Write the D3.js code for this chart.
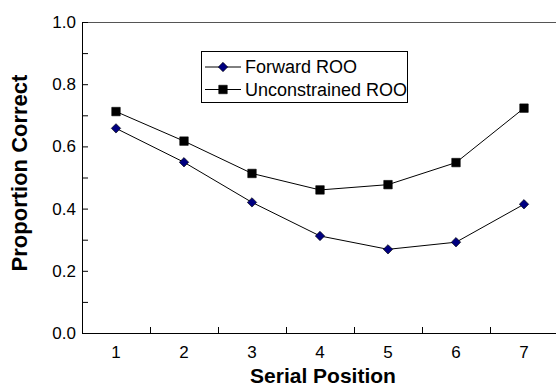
<!DOCTYPE html>
<html><head><meta charset="utf-8">
<script src="https://cdn.jsdelivr.net/npm/d3@7/dist/d3.min.js"></script>
<style>body{margin:0;background:#fff}svg{display:block}text{font-family:"Liberation Sans",Arial,sans-serif}</style>
</head><body>
<script>
const positions = [1,2,3,4,5,6,7];
const forwardROO = [0.658,0.549,0.420,0.312,0.269,0.292,0.414];
const unconstrainedROO = [0.712,0.617,0.513,0.460,0.477,0.548,0.723];
const yTicks = [0.0,0.2,0.4,0.6,0.8,1.0];
const yMinor = [0.1,0.3,0.5,0.7,0.9];
const seriesNames = ["Forward ROO","Unconstrained ROO"];

const W=556,H=389;
const L=82,R=558,T=22,B=333;
const svg=d3.select("body").append("svg").attr("width",W).attr("height",H);
const x=d3.scaleBand().domain(positions).range([L,R]);
const y=d3.scaleLinear().domain([0,1]).range([B,T]);

svg.append("line").attr("x1",L).attr("x2",W).attr("y1",T+0.5).attr("y2",T+0.5).attr("stroke","#555").attr("stroke-width",1);

const yAxis=svg.append("g").attr("transform",`translate(${L},0)`)
 .call(d3.axisRight(y).tickValues(yTicks.concat(yMinor)).tickSize(6).tickFormat(""));
yAxis.select(".domain").attr("stroke","#000").attr("d",`M0.5,${T}V${B}`);
yAxis.selectAll(".tick line").attr("stroke","#000");
svg.append("g").selectAll("text").data(yTicks).join("text")
 .attr("x",L-6).attr("y",d=>y(d)+6).attr("text-anchor","end")
 .attr("font-size",17).text(d=>d.toFixed(1));

const xb=d3.scaleLinear().domain([0,7]).range([L,R]);
const xAxis=svg.append("g").attr("transform",`translate(0,${B})`)
 .call(d3.axisTop(xb).tickValues([1,2,3,4,5,6]).tickSize(6).tickFormat(""));
xAxis.select(".domain").attr("stroke","#000").attr("d",`M${L},0.5H${W}`);
xAxis.selectAll(".tick line").attr("stroke","#000");
svg.append("g").selectAll("text").data(positions).join("text")
 .attr("x",d=>x(d)+x.bandwidth()/2).attr("y",B+25).attr("text-anchor","middle")
 .attr("font-size",17).text(d=>d);

svg.append("text").attr("x",323).attr("y",383).attr("text-anchor","middle")
 .attr("font-size",21).attr("font-weight","bold").text("Serial Position");
svg.append("text").attr("transform",`translate(27,173) rotate(-90)`).attr("text-anchor","middle")
 .attr("font-size",22).attr("font-weight","bold").text("Proportion Correct");

const cx=d=>x(d)+x.bandwidth()/2;
const line=d3.line().x((d,i)=>cx(positions[i])).y(d=>y(d));
function marker(g,isDiamond){
  return g.attr("d",d3.symbol().type(d3.symbolSquare).size(isDiamond?44:72)())
    .attr("fill",isDiamond?"#000080":"#000").attr("stroke","#000").attr("stroke-width",0.6);
}
function drawSeries(vals,isDiamond){
  svg.append("path").attr("d",line(vals)).attr("fill","none").attr("stroke","#000").attr("stroke-width",1);
  marker(svg.append("g").selectAll("path").data(vals).join("path")
   .attr("transform",(d,i)=>`translate(${cx(positions[i])},${y(d)})`+(isDiamond?" rotate(45)":"")),isDiamond);
}
drawSeries(forwardROO,true);
drawSeries(unconstrainedROO,false);

const lg=svg.append("g");
lg.append("rect").attr("x",201.5).attr("y",51.5).attr("width",206).attr("height",51).attr("fill","#fff").attr("stroke","#000");
seriesNames.forEach((n,i)=>{
  const yy=67+i*22.5;
  lg.append("line").attr("x1",205).attr("x2",241).attr("y1",yy).attr("y2",yy).attr("stroke","#000");
  marker(lg.append("path").attr("transform",`translate(223,${yy})`+(i?"":" rotate(45)")),i===0);
  lg.append("text").attr("x",245).attr("y",yy+6).attr("font-size",18).text(n);
});
</script>
</body></html>
